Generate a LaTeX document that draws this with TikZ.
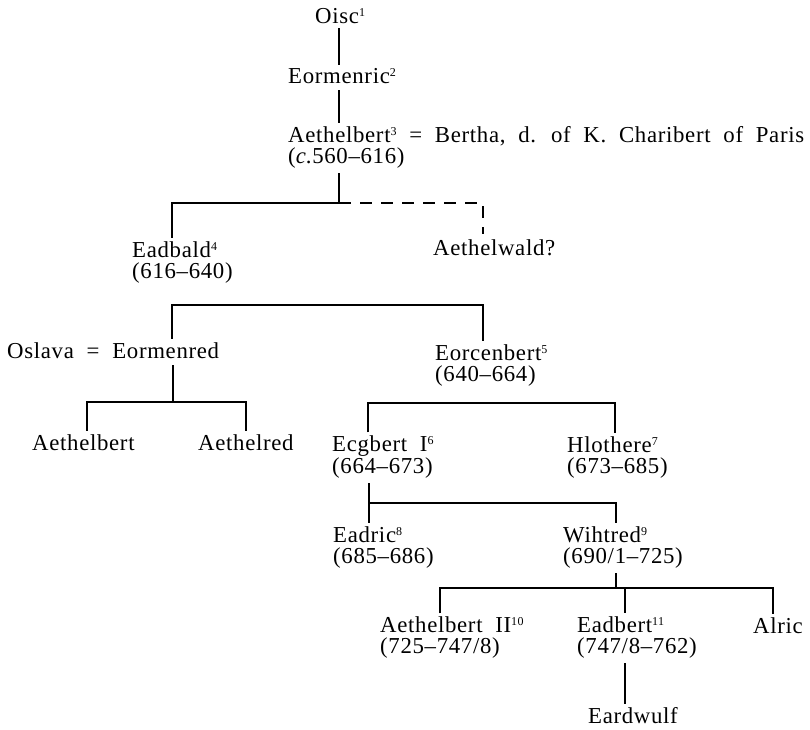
\documentclass[tikz,border=0pt]{standalone}
\usepackage{fontspec}
\setmainfont{Liberation Serif}[WordSpace=2,LetterSpace=3]
\usetikzlibrary{calc}
\newcommand{\fn}[1]{\raisebox{7pt}{\fontsize{12}{12}\selectfont#1}}

\begin{document}
\begin{tikzpicture}[x=1pt,y=-1pt,
	  every node/.style={inner sep=0pt,anchor=base west,align=left,font=\fontsize{22.8}{20.5}\selectfont},
	  line/.style={line width=1.7pt},
	  maybe/.style={line width=1.7pt,dash pattern=on 12pt off 9pt}]
	  \useasboundingbox (0,0) rectangle (810,729);

	  % Position the people at coordinates (base of the last line)
	  \node (oisc) at (315,23) {Oisc\fn{1}};
	  \node (eormenric) at (288,83) {Eormenric\fn{2}};
	  \node (aethelbert) at (288,163) {Aethelbert\fn{3} = Bertha, d. of K. Charibert of Paris\\(\textit{c}.560--616)};
	  \node (eadbald) at (132,278) {Eadbald\fn{4}\\(616--640)};
	  \node (aethelwald) at (433,255) {Aethelwald?};
	  \node (eormenred) at (7,358) {Oslava = Eormenred};
	  \node (eorcenbert) at (435,381) {Eorcenbert\fn{5}\\(640--664)};
	  \node (aethelbertb) at (32,450) {Aethelbert};
	  \node (aethelred) at (198,450) {Aethelred};
	  \node (ecgbert) at (332,473) {Ecgbert I\fn{6}\\(664--673)};
	  \node (hlothere) at (567,473) {Hlothere\fn{7}\\(673--685)};
	  \node (eadric) at (333,563) {Eadric\fn{8}\\(685--686)};
	  \node (wihtred) at (563,563) {Wihtred\fn{9}\\(690/1--725)};
	  \node (aethelbertii) at (380,653) {Aethelbert II\fn{10}\\(725--747/8)};
	  \node (eadbert) at (577,653) {Eadbert\fn{11}\\(747/8--762)};
	  \node (alric) at (753,633) {Alric};
	  \node (eardwulf) at (588,723) {Eardwulf};

	  % forks
	  \coordinate (f1) at (339,203);
	  \coordinate (f1l) at (172,203);
	  \coordinate (f1r) at (483,203);
	  \coordinate (f2l) at (172,305);
	  \coordinate (f2r) at (483,305);
	  \coordinate (f3) at (173,402);
	  \coordinate (f3l) at (87,402);
	  \coordinate (f3r) at (246,402);
	  \coordinate (f4l) at (368,403);
	  \coordinate (f4r) at (615,403);
	  \coordinate (f5) at (369,503);
	  \coordinate (f5r) at (616,503);
	  \coordinate (f6) at (616,588);
	  \coordinate (f6l) at (440,588);
	  \coordinate (f6m) at (625,588);
	  \coordinate (f6r) at (773,588);

	  \draw[line] ([yshift=-5pt]f1 |- oisc.south) -- ([yshift=3pt]f1 |- eormenric.north);
	  \draw[line] ([yshift=-7pt]f1 |- eormenric.base) -- ([yshift=3pt]f1 |- aethelbert.north);
	  \draw[line] ([yshift=-5pt]f1 |- aethelbert.south) -- (f1) -- (f1l) -- ([yshift=3pt]f1l |- eadbald.north);
	  \draw[maybe] (f1) -- (f1r) -- ([yshift=5pt]f1r |- aethelwald.north);
	  \draw[line] ([yshift=3pt]f2l |- eormenred.north) -- (f2l) -- (f2r) -- ([yshift=3pt]f2r |- eorcenbert.north);
	  \draw[line] ([yshift=-7pt]f3 |- eormenred.south) -- (f3);
	  \draw[line] ([yshift=3pt]f3l |- aethelbertb.north) -- (f3l) -- (f3r) -- ([yshift=3pt]f3r |- aethelred.north);
	  \draw[line] ([yshift=3pt]f4l |- ecgbert.north) -- (f4l) -- (f4r) -- ([yshift=3pt]f4r |- hlothere.north);
	  \draw[line] ([yshift=-5pt]f5 |- ecgbert.south) -- ([yshift=3pt]f5 |- eadric.north);
	  \draw[line] (f5) -- (f5r) -- ([yshift=3pt]f5r |- wihtred.north);
	  \draw[line] ([yshift=-5pt]f6 |- wihtred.south) -- (f6);
	  \draw[line] ([yshift=3pt]f6l |- aethelbertii.north) -- (f6l) -- (f6r) -- ([yshift=3pt]f6r |- alric.north);
	  \draw[line] (f6m) -- ([yshift=3pt]f6m |- eadbert.north);
	  \draw[line] ([yshift=-5pt]f6m |- eadbert.south) -- ([yshift=3pt]f6m |- eardwulf.north);
\end{tikzpicture}
\end{document}
